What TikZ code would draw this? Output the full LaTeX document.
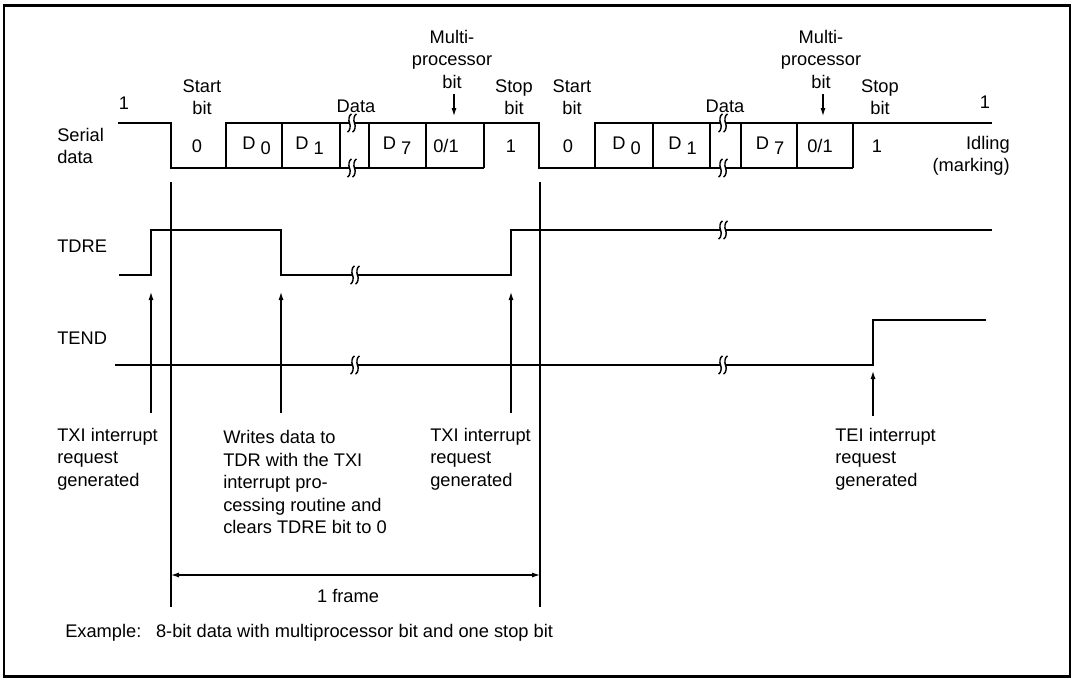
\documentclass[tikz,border=0pt]{standalone}
\usepackage{fontspec}
\setmainfont{Liberation Sans}
\usetikzlibrary{arrows.meta}
\begin{document}
\begin{tikzpicture}[x=0.75pt,y=-0.75pt,
  wave/.style={line width=1.8pt, line join=miter},
  thinline/.style={line width=0.9pt},
  lbl/.style={inner sep=0pt, font=\fontsize{13.7}{16.9}\selectfont},
  ptr/.style={thinline,-{Latex[length=6pt,width=3.8pt]}},
  both/.style={thinline,{Latex[length=6pt,width=3.8pt]}-{Latex[length=6pt,width=3.8pt]}},
  brk/.pic={
    \fill[white] (-2.7,-2.8) rectangle (2.7,2.8);
    \draw[line width=1.1pt] (-0.5,-9) .. controls (-3.5,-8) and (-3.5,-2) .. (-2.5,0)
                            .. controls (-1.5,2) and (-1.5,8) .. (-4.5,9);
    \draw[line width=1.1pt] (4.5,-9) .. controls (1.5,-8) and (1.5,-2) .. (2.5,0)
                            .. controls (3.5,2) and (3.5,8) .. (0.5,9);
  }]
\useasboundingbox (0,0) rectangle (1074,679);
\draw[line width=2pt] (4,5.5) rectangle (1070,676.5);

% ---------- serial data ----------
\draw[wave] (118,123) -- (171,123) -- (171,168) -- (484,168);
\draw[wave] (226,168) -- (226,123) -- (539,123) -- (539,168) -- (853,168);
\draw[wave] (595,168) -- (595,123) -- (992,123);
\foreach \xx in {282,340,369,426,484,653,710,741,797,853}
  \draw[wave] (\xx,123) -- (\xx,168);
\pic at (352,123) {brk};
\pic at (352,168) {brk};
\pic at (723,123) {brk};
\pic at (723,168) {brk};

% ---------- TDRE ----------
\draw[wave] (119,275) -- (151,275) -- (151,230) -- (281,230) -- (281,275) -- (511,275) -- (511,230) -- (992,230);
\pic at (355,275) {brk};
\pic at (723,230) {brk};

% ---------- TEND ----------
\draw[wave] (115,365) -- (873,365) -- (873,320) -- (986,320);
\pic at (355,365) {brk};
\pic at (723,365) {brk};

% ---------- frame lines ----------
\coordinate (f1t) at (171,182); \coordinate (f1b) at (171,607);
\coordinate (f2t) at (540,182); \coordinate (f2b) at (540,607);
\draw[thinline] (f1t) -- (f1b);
\draw[thinline] (f2t) -- (f2b);
\coordinate (fa1) at (171,575); \coordinate (fa2) at (540,575);
\draw[both] (fa1) -- (fa2);

% ---------- arrows ----------
\coordinate (a1b) at (151,413); \coordinate (a1t) at (151,292);
\coordinate (a2b) at (281,413); \coordinate (a2t) at (281,292);
\coordinate (a3b) at (511,413); \coordinate (a3t) at (511,292);
\coordinate (a4b) at (873,416); \coordinate (a4t) at (873,371);
\draw[ptr] (a1b) -- (a1t);
\draw[ptr] (a2b) -- (a2t);
\draw[ptr] (a3b) -- (a3t);
\draw[ptr] (a4b) -- (a4t);
\coordinate (m1t) at (454,94); \coordinate (m1b) at (454,116);
\coordinate (m2t) at (823,94); \coordinate (m2b) at (823,116);
\draw[ptr] (m1t) -- (m1b);
\draw[ptr] (m2t) -- (m2b);

% ---------- labels ----------
\node[lbl,anchor=west,align=left] (serial) at (57,146) {Serial\\data};
\node[lbl,anchor=west] (tdre) at (57,246) {TDRE};
\node[lbl,anchor=west] (tend) at (57,338) {TEND};

\node[lbl] (one1) at (124,103) {1};
\node[lbl,align=center] (start1) at (202,97) {Start\\bit};
\node[lbl] (z1) at (197,146) {0};
\node[lbl] (d01) at (256.5,146) {D \raisebox{-3.5pt}{0}};
\node[lbl] (d11) at (309.5,146) {D \raisebox{-3.5pt}{1}};
\node[lbl] (d71) at (397,146) {D \raisebox{-3.5pt}{7}};
\node[lbl] (mp1v) at (446,146) {0/1};
\node[lbl] (st1v) at (511,146) {1};
\node[lbl] (data1) at (356,106) {Data};
\node[lbl,align=center] (mp1) at (452,59) {Multi-\\processor\\bit};
\node[lbl,align=center] (stop1) at (514,97) {Stop\\bit};

\node[lbl,align=center] (start2) at (572,97) {Start\\bit};
\node[lbl] (z2) at (568,146) {0};
\node[lbl] (d02) at (626.5,146) {D \raisebox{-3.5pt}{0}};
\node[lbl] (d12) at (682.5,146) {D \raisebox{-3.5pt}{1}};
\node[lbl] (d72) at (770,146) {D \raisebox{-3.5pt}{7}};
\node[lbl] (mp2v) at (820,146) {0/1};
\node[lbl] (data2) at (725,106) {Data};
\node[lbl,align=center] (mp2) at (821,59) {Multi-\\processor\\bit};
\node[lbl,align=center] (stop2) at (880,97) {Stop\\bit};
\node[lbl] (st2v) at (877,146) {1};
\node[lbl] (one2) at (985,102) {1};
\node[lbl,anchor=east,align=right] (idle) at (1010,156) {Idling\\(marking)};

\node[lbl,anchor=west,align=left] (txi1) at (57,459) {TXI interrupt\\request\\generated};
\node[lbl,anchor=west,align=left] (wr) at (223,482) {Writes data to\\TDR with the TXI\\interrupt pro-\\cessing routine and\\clears TDRE bit to 0};
\node[lbl,anchor=west,align=left] (txi2) at (430,459) {TXI interrupt\\request\\generated};
\node[lbl,anchor=west,align=left] (tei) at (835,459) {TEI interrupt\\request\\generated};

\node[lbl] (frame) at (348,596) {1 frame};
\node[lbl,anchor=west] (ex) at (65,633) {Example:\hspace{0.8em}8-bit data with multiprocessor bit and one stop bit};
\end{tikzpicture}
\end{document}
